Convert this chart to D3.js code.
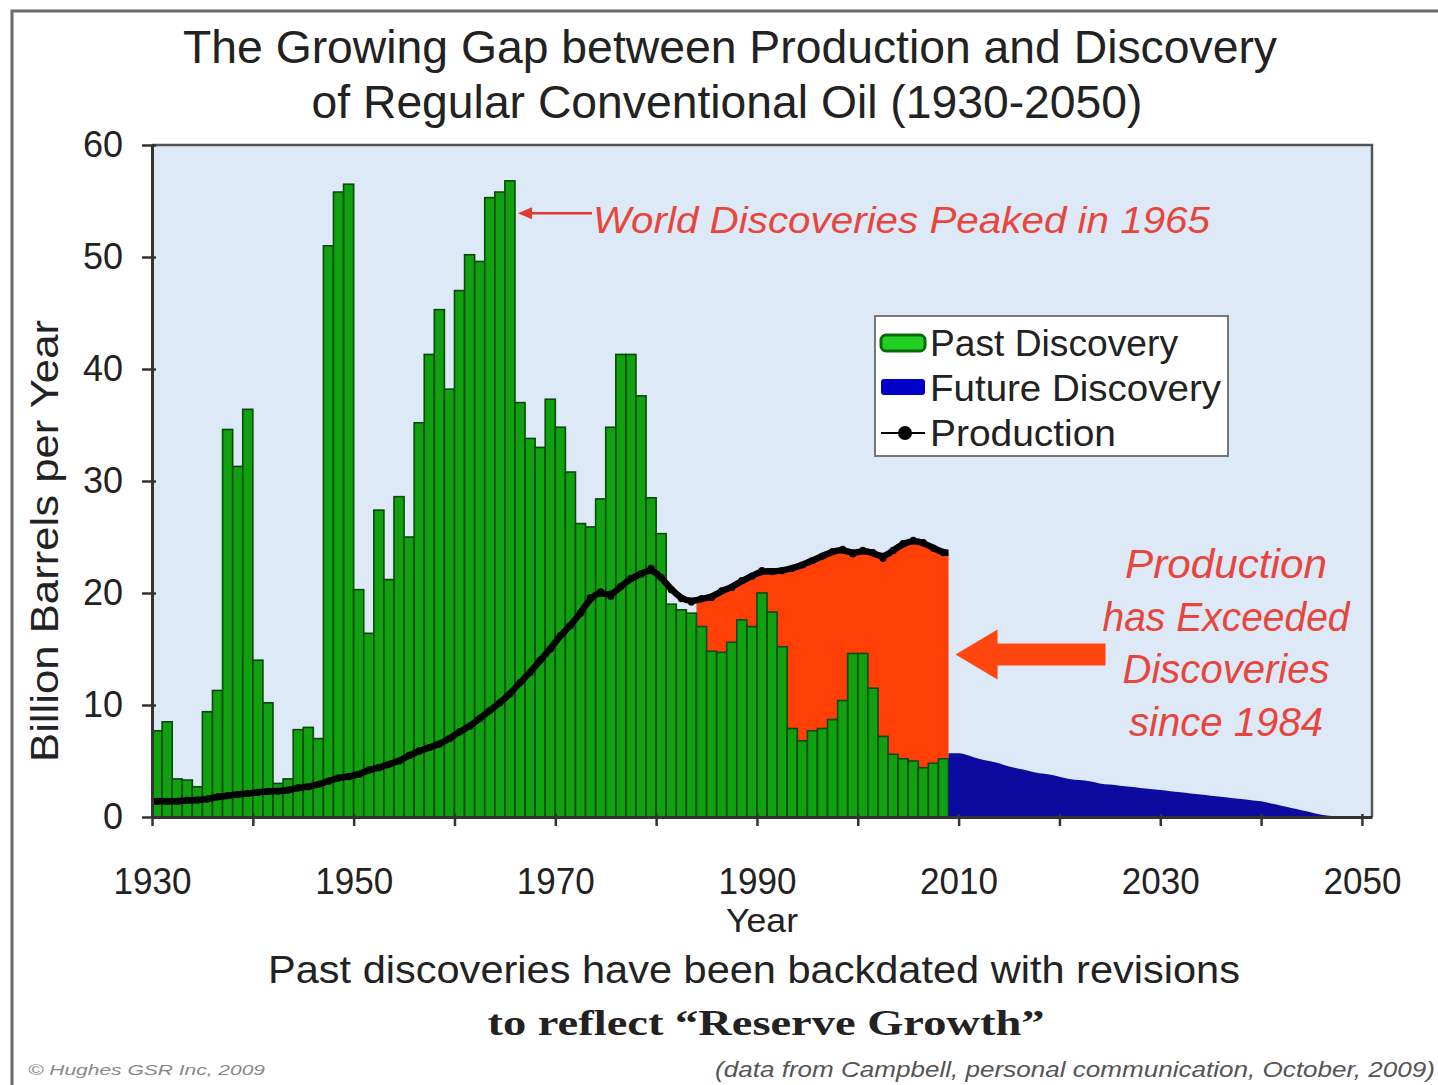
<!DOCTYPE html>
<html>
<head>
<meta charset="utf-8">
<script src="https://cdn.jsdelivr.net/npm/d3@7"></script>
<style>
  body { margin: 0; background: #fff; }
  svg { display: block; font-family: "Liberation Sans", Arial, sans-serif; }
</style>
</head>
<body>
<svg id="chart" width="1438" height="1085"></svg>
<script>
// years 1930-2008, billion barrels per year
var discYears = d3.range(1930, 2009);
var pastDiscovery = [
  7.7, 8.5, 3.4, 3.3, 2.7, 9.4, 11.3, 34.6, 31.3, 36.4,
  14.0, 10.2, 3.0, 3.4, 7.8, 8.0, 7.0, 51.0, 55.8, 56.5,
  20.3, 16.4, 27.4, 21.2, 28.6, 25.0, 35.2, 41.3, 45.3, 38.2,
  47.0, 50.2, 49.6, 55.3, 55.8, 56.8, 37.0, 33.8, 33.0, 37.3,
  34.8, 30.8, 26.2, 25.9, 28.4, 34.8, 41.3, 41.3, 37.6, 28.5,
  25.3, 19.0, 18.5, 18.2, 17.0, 14.8, 14.7, 15.6, 17.6, 17.0,
  20.0, 18.3, 15.2, 7.9, 6.8, 7.7, 7.9, 8.7, 10.4, 14.6,
  14.6, 11.5, 7.2, 5.6, 5.2, 5.0, 4.4, 4.8, 5.2
];
var production = [
  1.4, 1.4, 1.4, 1.5, 1.5, 1.6, 1.8, 1.9, 2.0, 2.1,
  2.2, 2.3, 2.3, 2.4, 2.6, 2.7, 2.9, 3.2, 3.5, 3.6,
  3.8, 4.2, 4.4, 4.7, 5.0, 5.5, 5.9, 6.2, 6.5, 7.0,
  7.6, 8.1, 8.8, 9.5, 10.2, 11.0, 12.0, 12.9, 14.0, 15.0,
  16.2, 17.1, 18.2, 19.6, 20.1, 19.7, 20.6, 21.3, 21.7, 22.2,
  21.4, 20.3, 19.5, 19.2, 19.5, 19.6, 20.2, 20.5, 21.1, 21.5,
  22.0, 21.9, 22.0, 22.2, 22.5, 22.9, 23.3, 23.7, 23.9, 23.5,
  23.8, 23.6, 23.1, 23.8, 24.4, 24.7, 24.5, 24.0, 23.6
];
var futureYears = d3.range(2009, 2051);
var futureDiscovery = [
  5.7, 5.7, 5.5, 5.2, 5.0, 4.8, 4.5, 4.3, 4.1, 3.9,
  3.8, 3.6, 3.4, 3.3, 3.2, 3.0, 2.9, 2.8, 2.7, 2.6,
  2.5, 2.4, 2.3, 2.2, 2.1, 2.0, 1.9, 1.8, 1.7, 1.6,
  1.5, 1.4, 1.2, 1.0, 0.8, 0.6, 0.4, 0.2, 0.1, 0.0,
  0.0, 0.0
];
var gapStartYear = 1984;
var yTicks = [0, 10, 20, 30, 40, 50, 60];
var xTicks = d3.range(1930, 2051, 10);
var xLabelYears = [1930, 1950, 1970, 1990, 2010, 2030, 2050];
var legendItems = ["Past Discovery", "Future Discovery", "Production"];

var svg = d3.select("#chart");

// outer frame of the picture
svg.append("rect")
    .attr("x", 12).attr("y", 11).attr("width", 1450).attr("height", 1100)
    .attr("fill", "none").attr("stroke", "#6a6a6a").attr("stroke-width", 3);

var x = d3.scaleLinear().domain([1930, 2051]).range([152, 1372]);
var y = d3.scaleLinear().domain([0, 60]).range([817, 145]);

// plot background
svg.append("rect")
    .attr("x", x(1930)).attr("y", y(60))
    .attr("width", x(2051) - x(1930)).attr("height", y(0) - y(60))
    .attr("fill", "#dde9f7");

var prod = discYears.map(function(yr, i) { return {t: yr + 0.5, v: production[i]}; });
var prodPts = [{t: 1930, v: production[0]}].concat(prod, [{t: 2009, v: production[production.length - 1]}]);

// red gap: production above discovery since 1984
var gap = prod.filter(function(d) { return d.t >= gapStartYear; });
var gapPts = [{t: gapStartYear, v: gap[0].v}].concat(gap, [{t: 2009, v: gap[gap.length - 1].v}]);
svg.append("path")
    .datum(gapPts)
    .attr("fill", "#ff3f06")
    .attr("d", d3.area()
        .x(function(d) { return x(d.t); })
        .y0(y(0))
        .y1(function(d) { return y(d.v); })
        .curve(d3.curveBasis));

// past discovery bars
svg.append("g").selectAll("rect")
    .data(discYears)
  .enter().append("rect")
    .attr("x", function(d) { return x(d); })
    .attr("width", function(d) { return x(d + 1) - x(d); })
    .attr("y", function(d, i) { return y(pastDiscovery[i]); })
    .attr("height", function(d, i) { return y(0) - y(pastDiscovery[i]); })
    .attr("fill", "#10a010")
    .attr("stroke", "#084a08")
    .attr("stroke-width", 1.6);

// future discovery
svg.append("path")
    .datum(futureYears.map(function(yr, i) { return {t: yr, v: futureDiscovery[i]}; }))
    .attr("fill", "#0b0ba0")
    .attr("d", d3.area()
        .x(function(d) { return x(d.t); })
        .y0(y(0))
        .y1(function(d) { return y(d.v); })
        .curve(d3.curveMonotoneX));

// production line
svg.append("path")
    .datum(prodPts)
    .attr("fill", "none")
    .attr("stroke", "#000")
    .attr("stroke-width", 6.5)
    .attr("stroke-linejoin", "round")
    .attr("d", d3.line()
        .x(function(d) { return x(d.t); })
        .y(function(d) { return y(d.v); })
        .curve(d3.curveBasis));
svg.append("g").selectAll("circle")
    .data(prod)
  .enter().append("circle")
    .attr("cx", function(d) { return x(d.t); })
    .attr("cy", function(d) { return y(d.v); })
    .attr("r", 3.6)
    .attr("fill", "#000");

// plot border (top / right)
svg.append("path")
    .attr("d", "M" + x(1930) + "," + y(60) + "H" + x(2051) + "V" + y(0))
    .attr("fill", "none").attr("stroke", "#555").attr("stroke-width", 2.5);

// axes
var yAxis = svg.append("g")
    .attr("transform", "translate(" + x(1930) + ",0)")
    .call(d3.axisLeft(y).tickValues(yTicks).tickSize(10).tickSizeOuter(0).tickPadding(19));
var xAxis = svg.append("g")
    .attr("transform", "translate(0," + y(0) + ")")
    .call(d3.axisBottom(x).tickValues(xTicks).tickSize(9).tickSizeOuter(0).tickPadding(42)
        .tickFormat(function(d) { return xLabelYears.indexOf(d) >= 0 ? d : ""; }));
[yAxis, xAxis].forEach(function(ax) {
  ax.select(".domain").attr("stroke", "#333").attr("stroke-width", 3);
  ax.selectAll(".tick line").attr("stroke", "#333").attr("stroke-width", 2.5);
  ax.selectAll(".tick text")
      .attr("fill", "#222")
      .style("font-family", "'Liberation Sans', Arial, sans-serif")
      .style("font-size", "36px");
});
xAxis.selectAll(".tick line").attr("y1", -3);
xAxis.selectAll(".tick text")
    .filter(function(d) { return xLabelYears.indexOf(d) >= 0; })
    .attr("textLength", 78).attr("lengthAdjust", "spacingAndGlyphs");
yAxis.selectAll(".tick line").attr("x2", 4).attr("x1", -10);

// titles
function label(txt, cx, cy, size, len, opts) {
  opts = opts || {};
  var t = svg.append("text")
      .attr("x", cx).attr("y", cy)
      .attr("text-anchor", opts.anchor || "middle")
      .attr("fill", opts.fill || "#222")
      .style("font-size", size + "px")
      .style("font-family", opts.family || "'Liberation Sans', Arial, sans-serif")
      .style("font-style", opts.italic ? "italic" : "normal")
      .style("font-weight", opts.bold ? "bold" : "normal")
      .text(txt);
  if (len) t.attr("textLength", len).attr("lengthAdjust", "spacingAndGlyphs");
  if (opts.rotate) t.attr("transform", "rotate(-90," + cx + "," + cy + ")");
  return t;
}

label("The Growing Gap between Production and Discovery", 730, 63, 46, 1094);
label("of Regular Conventional Oil (1930-2050)", 727, 118, 46, 831);
label("Billion Barrels per Year", 58, 541, 38, 442, {rotate: true});
label("Year", 762, 932, 34, 72);
label("Past discoveries have been backdated with revisions", 754, 983, 38, 972);
label("to reflect \u201cReserve Growth\u201d", 766, 1035, 36, 557,
      {family: "'Liberation Serif', 'Times New Roman', serif", bold: true});
label("\u00a9 Hughes GSR Inc, 2009", 28, 1075, 15, 237, {anchor: "start", italic: true, fill: "#888"});
label("(data from Campbell, personal communication, October, 2009)", 1435, 1077, 22, 720,
      {anchor: "end", italic: true, fill: "#555"});

// annotation: discoveries peak
var peakIdx = pastDiscovery.indexOf(d3.max(pastDiscovery));
var peakX = x(discYears[peakIdx] + 1) + 3;
var arrowY = y(53.9);
svg.append("line")
    .attr("x1", peakX + 10).attr("x2", 592)
    .attr("y1", arrowY).attr("y2", arrowY)
    .attr("stroke", "#e03a33").attr("stroke-width", 2.5);
svg.append("path")
    .attr("d", "M" + peakX + "," + arrowY + "l14,-6v12z")
    .attr("fill", "#e03a33");
label("World Discoveries Peaked in 1965", 593, 233, 36, 617,
      {anchor: "start", italic: true, fill: "#e8453d"});

// annotation: production exceeded discoveries
["Production", "has Exceeded", "Discoveries", "since 1984"].forEach(function(s, i) {
  var lens = [202, 247, 207, 194];
  label(s, 1226, 578 + i * 52.5, 40, lens[i], {italic: true, fill: "#e8453d"});
});
var tipX = x(2009) + 7, tipY = y(14.5);
svg.append("path")
    .attr("d", "M" + tipX + "," + tipY + "l42,-25v14h108v22h-108v14z")
    .attr("fill", "#ff4510");

// legend
var lg = svg.append("g").attr("transform", "translate(875,316)");
lg.append("rect").attr("width", 353).attr("height", 140)
    .attr("fill", "#fff").attr("stroke", "#777").attr("stroke-width", 2);
lg.append("rect").attr("x", 6).attr("y", 19).attr("width", 44).attr("height", 16).attr("rx", 5)
    .attr("fill", "#22d022").attr("stroke", "#0a6a0a").attr("stroke-width", 3);
lg.append("rect").attr("x", 6).attr("y", 63).attr("width", 44).attr("height", 16).attr("rx", 3)
    .attr("fill", "#0000c8");
lg.append("line").attr("x1", 6).attr("x2", 50).attr("y1", 117).attr("y2", 117)
    .attr("stroke", "#000").attr("stroke-width", 2);
lg.append("circle").attr("cx", 30).attr("cy", 117).attr("r", 7).attr("fill", "#000");
lg.selectAll("text.item")
    .data(legendItems)
  .enter().append("text")
    .attr("class", "item")
    .attr("x", 55)
    .attr("y", function(d, i) { return 40 + i * 45; })
    .attr("fill", "#222")
    .style("font-size", "36px")
    .attr("textLength", function(d, i) { return [248, 291, 186][i]; })
    .attr("lengthAdjust", "spacingAndGlyphs")
    .text(function(d) { return d; });
</script>
</body>
</html>
